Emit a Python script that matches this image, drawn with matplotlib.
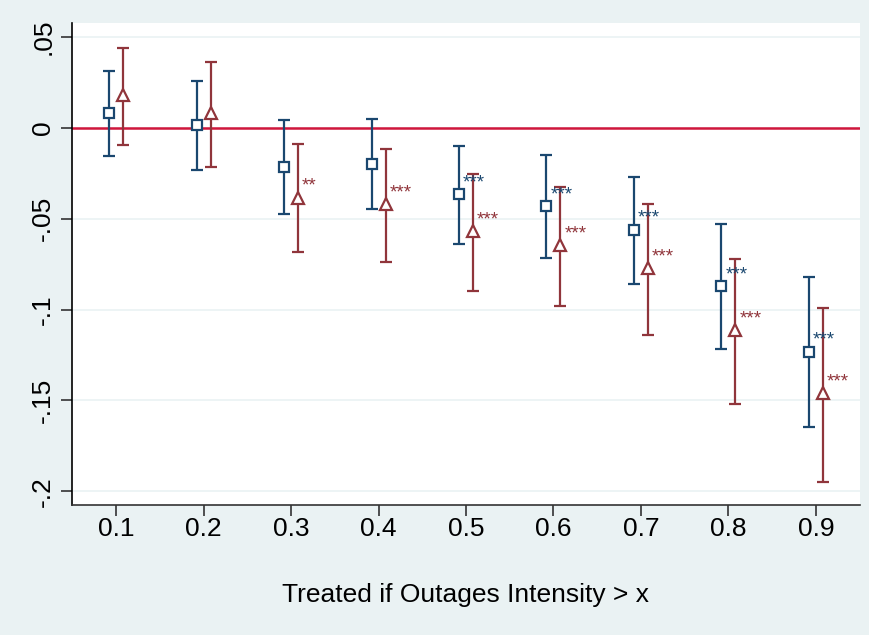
import matplotlib
matplotlib.use("Agg")
import matplotlib.pyplot as plt

plt.rcParams['font.family'] = ['Liberation Sans', 'DejaVu Sans']

thresholds = [0.1, 0.2, 0.3, 0.4, 0.5, 0.6, 0.7, 0.8, 0.9]
tick_labels = ["0.1", "0.2", "0.3", "0.4", "0.5", "0.6", "0.7", "0.8", "0.9"]

blue_coef = [0.0083, 0.0015, -0.0215, -0.0197, -0.0366, -0.0432, -0.0560, -0.0872, -0.1232]
blue_lo = [-0.0154, -0.0230, -0.0472, -0.0444, -0.0637, -0.0718, -0.0858, -0.1216, -0.1646]
blue_hi = [0.0314, 0.0257, 0.0044, 0.0050, -0.0097, -0.0149, -0.0270, -0.0531, -0.0821]
blue_stars = ["", "", "", "", "***", "***", "***", "***", "***"]

red_coef = [0.0180, 0.0080, -0.0384, -0.0419, -0.0568, -0.0645, -0.0771, -0.1113, -0.1462]
red_lo = [-0.0094, -0.0213, -0.0685, -0.0738, -0.0896, -0.0979, -0.1140, -0.1520, -0.1952]
red_hi = [0.0442, 0.0362, -0.0088, -0.0116, -0.0252, -0.0325, -0.0419, -0.0720, -0.0990]
red_stars = ["", "", "**", "***", "***", "***", "***", "***", "***"]

y_ticks = [0.05, 0.0, -0.05, -0.1, -0.15, -0.2]
y_tick_labels = [".05", "0", "-.05", "-.1", "-.15", "-.2"]

BG = '#eaf2f3'
NAVY = '#1a476f'
MAROON = '#90353b'
ZERO = '#d0163c'

fig = plt.figure(figsize=(8.7, 6.35), dpi=100, facecolor=BG)
ax = fig.add_axes([72/870, 1-505/635, (860-72)/870, (505-23)/635])
ax.set_facecolor('white')

off = 0.008
bx = [t - off for t in thresholds]
rx = [t + off for t in thresholds]

for y in y_ticks:
    ax.axhline(y, color=BG, lw=1.2, zorder=0)
ax.axhline(0, color=ZERO, lw=1.8, zorder=1)

ax.errorbar(bx, blue_coef,
            yerr=[[c - l for c, l in zip(blue_coef, blue_lo)], [h - c for c, h in zip(blue_coef, blue_hi)]],
            fmt='none', ecolor=NAVY, elinewidth=1.6, capsize=4.5, capthick=1.6, zorder=2)
ax.plot(bx, blue_coef, linestyle='none', marker='s', markersize=7.5, markerfacecolor='white',
        markeredgecolor=NAVY, markeredgewidth=1.6, zorder=3)

ax.errorbar(rx, red_coef,
            yerr=[[c - l for c, l in zip(red_coef, red_lo)], [h - c for c, h in zip(red_coef, red_hi)]],
            fmt='none', ecolor=MAROON, elinewidth=1.6, capsize=4.5, capthick=1.6, zorder=2)
ax.plot(rx, red_coef, linestyle='none', marker='^', markersize=9, markerfacecolor='white',
        markeredgecolor=MAROON, markeredgewidth=1.6, zorder=3)

for x, y, s in zip(bx, blue_coef, blue_stars):
    if s:
        ax.annotate(s, (x, y), xytext=(4, 7), textcoords='offset pixels',
                    color=NAVY, fontsize=13.5, ha='left', va='baseline', zorder=4)
for x, y, s in zip(rx, red_coef, red_stars):
    if s:
        ax.annotate(s, (x, y), xytext=(4, 7), textcoords='offset pixels',
                    color=MAROON, fontsize=13.5, ha='left', va='baseline', zorder=4)

ax.set_xlim(0.0497, 0.9503)
ax.set_ylim(-0.2076, 0.0578)
ax.set_xticks(thresholds)
ax.set_xticklabels(tick_labels)
ax.set_yticks(y_ticks)
ax.set_yticklabels(y_tick_labels, rotation=90, va='center')

ax.tick_params(axis='both', direction='out', length=8, width=1.2, color='#333333', labelsize=19)
ax.tick_params(axis='x', pad=1)
ax.tick_params(axis='y', pad=4)

for s in ['top', 'right']:
    ax.spines[s].set_visible(False)
ax.spines['left'].set_color('#000000')
ax.spines['bottom'].set_color('#333333')
ax.spines['left'].set_linewidth(1.2)
ax.spines['bottom'].set_linewidth(1.2)

fig.text((72 + 860) / 2 / 870, 1 - 602 / 635, "Treated if Outages Intensity > x",
         fontsize=19, ha='center', va='baseline')

fig.savefig("out.png", dpi=100, facecolor=BG)
